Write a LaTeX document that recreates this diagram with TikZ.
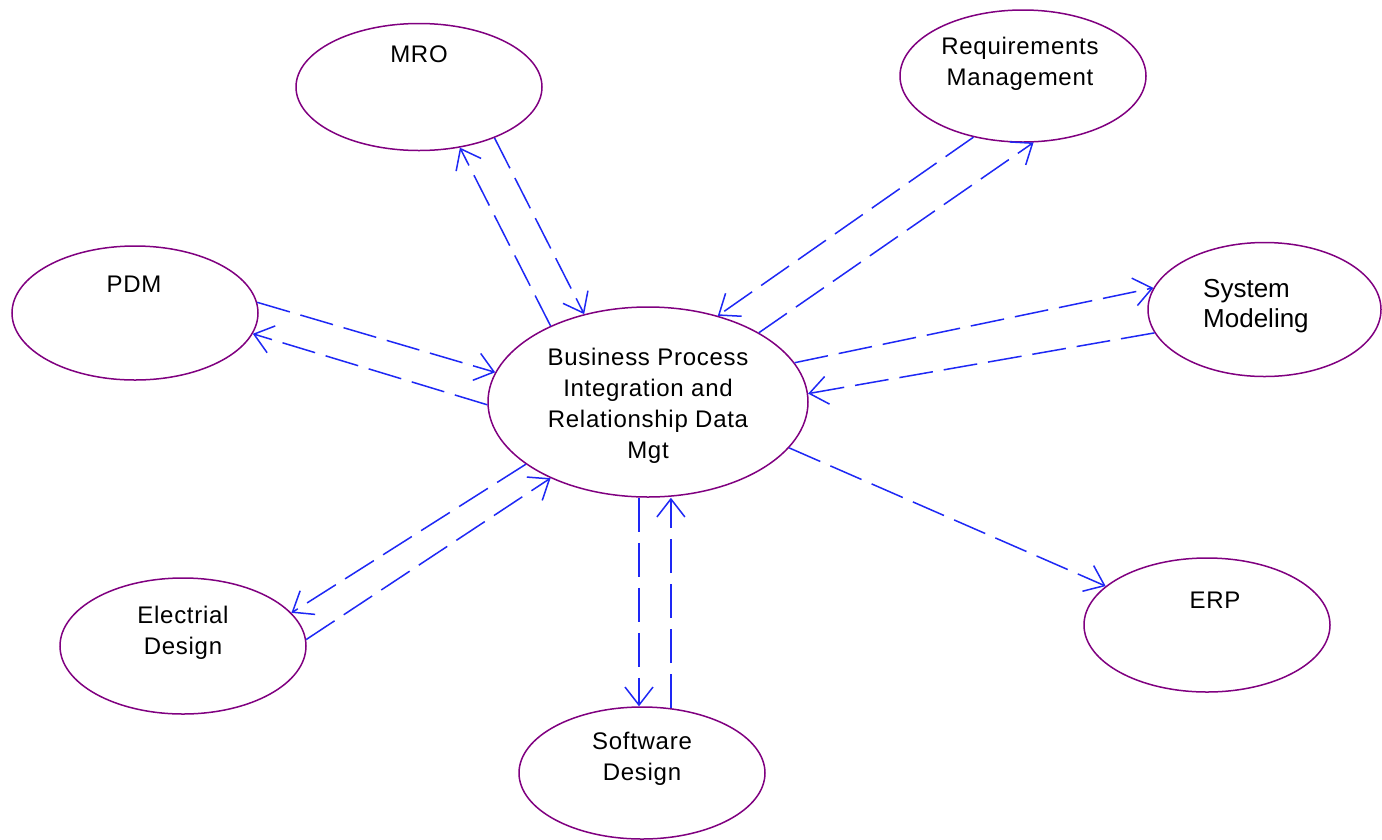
\documentclass[tikz,border=0pt]{standalone}
\usepackage{fontspec}
\setmainfont{Liberation Sans}
\usetikzlibrary{shapes.geometric,arrows.meta}
\definecolor{ellc}{RGB}{128,0,128}
\definecolor{connc}{RGB}{30,40,245}
\begin{document}
\begin{tikzpicture}[x=1pt,y=-1pt,
  ellnode/.style={ellipse, draw=ellc, line width=1.5pt, inner sep=0pt, minimum width=246pt, minimum height=132pt},
  lbl/.style={font=\fontsize{24}{31}\selectfont\addfontfeature{LetterSpace=3}, align=center, inner sep=0pt},
  conn/.style={draw=connc, line width=1.5pt, dash pattern=on 34pt off 11pt, -{Straight Barb[length=18pt,width=28pt]}}]
\useasboundingbox (0,0) rectangle (1382,839);
\fill[white] (0,0) rectangle (1382,839);
% ellipses
\node[ellnode, minimum height=127pt] (mro) at (419,87) {};
\node[ellnode] (req) at (1023,76) {};
\node[ellnode, minimum height=134pt] (pdm) at (135,313) {};
\node[ellnode, minimum width=233pt, minimum height=134pt] (sm) at (1264.5,309.5) {};
\node[ellnode, minimum width=320pt, minimum height=190pt] (c) at (648,402) {};
\node[ellnode, minimum height=136pt] (el) at (183,646) {};
\node[ellnode] (sw) at (642,773) {};
\node[ellnode, minimum height=134pt] (erp) at (1207,625) {};
% labels
\node[lbl] (tmro) at (419,54) {MRO};
\node[lbl] (treq) at (1020,63.5) {Requirements\\Management};
\node[lbl] (tpdm) at (134,284) {PDM};
\node[font=\fontsize{26}{30}\selectfont, align=left, anchor=west, inner sep=0pt] (tsm) at (1203,306) {System\\Modeling};
\node[lbl] (tc) at (648,405.5) {Business Process\\Integration and\\Relationship Data\\Mgt};
\node[lbl] (tel) at (183,633) {Electrial\\Design};
\node[lbl] (tsw) at (642,759) {Software\\Design};
\node[lbl] (terp) at (1215,600) {ERP};
% connectors
\draw[conn] (mro.-34.9) -- (c.126.3);
\draw[conn] (c.142.8) -- (mro.-56.3);
\draw[conn] (req.-129.6) -- (c.51.4);
\draw[conn] (c.32.8) -- (req.-81.5);
\draw[conn] (c.15.8) -- (sm.169.4);
\draw[conn] (sm.192.4) -- (c.3.2);
\draw[conn] (c.-18.1) -- (erp.159.3);
\draw[conn] ([xshift=-9pt]c.south) -- ([xshift=-9pt]c.south |- sw.north);
\draw[conn] (sw.66.7) -- (sw.66.7 |- c.south);
\draw[conn] (c.-153.8) -- (el.17.6);
\draw[conn] (el.3) -- (c.-142);
\draw[conn] (pdm.5.6) -- (c.169.3);
\draw[conn] (c.181.1) -- (pdm.-10.6);
\end{tikzpicture}
\end{document}
